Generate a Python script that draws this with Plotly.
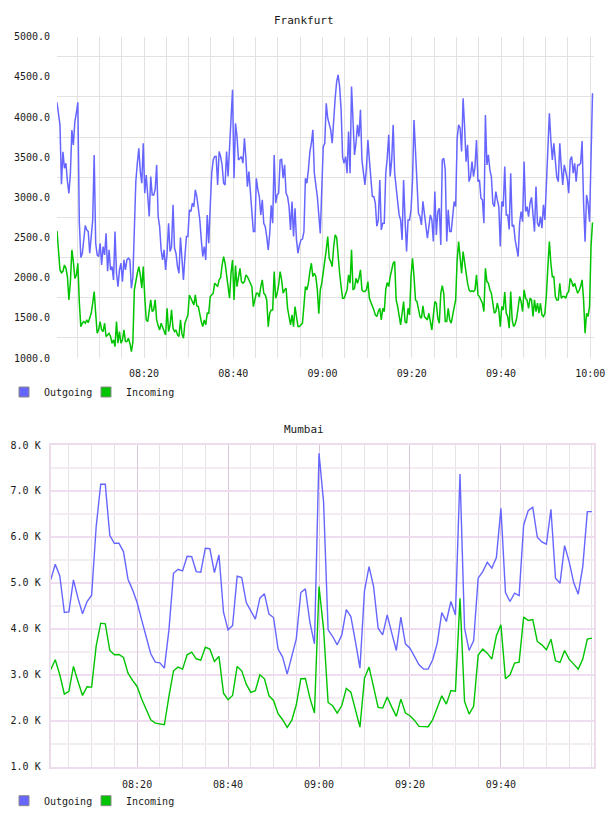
import pandas as pd
import plotly.graph_objects as go

# ---------------- data ----------------
DAY = "2024-01-01"

# Frankfurt: samples every 20 s starting 08:00:30
FRA_START = DAY + " 08:00:30"
FRA_STEP = "20s"
fra_outgoing = [
    4183, 4050, 3900, 3163, 3568, 3362, 3424, 3200, 3050, 3300,
    3839, 3652, 3943, 4047, 4183, 2700, 2250, 2300, 2520, 2650,
    2595, 2574, 2304, 2553, 2719, 3528, 2429, 2283, 2263, 2429,
    2159, 2387, 2283, 2553, 2080, 2346, 2097, 2138, 1972, 2574,
    2055, 1889, 2097, 2180, 1951, 2221, 2097, 2221, 2242, 2221,
    1868, 2000, 2553, 3200, 3425, 3611, 3321, 3176, 3674, 3051,
    3279, 2968, 2761, 3259, 3030, 3030, 3100, 3404, 2761, 2636,
    2346, 2221, 2346, 2097, 2304, 2678, 2325, 2387, 2906, 2366,
    2304, 2138, 2055, 2500, 2180, 1972, 2263, 2512, 2512, 2844,
    2823, 2927, 2885, 3093, 3010, 2885, 2719, 2470, 2263, 2387,
    2221, 2781, 2429, 2885, 3300, 3466, 3508, 3508, 3155, 3570,
    3508, 3400, 3176, 3155, 3570, 3259, 3632, 4047, 4338, 3238,
    3923, 3757, 3466, 3487, 3508, 3425, 3736, 3487, 3134, 3321,
    3051, 2850, 2574, 2574, 3238, 3100, 3010, 2781, 2968, 2678,
    2636, 2512, 2346, 2550, 2900, 2678, 3528, 2927, 3030, 3051,
    3466, 3474, 3238, 3404, 3051, 3010, 2885, 2595, 2948, 2512,
    2864, 2470, 2304, 2408, 2470, 2480, 2574, 3238, 3176, 3342,
    3570, 3674, 3840, 3300, 3176, 3010, 2781, 2550, 3100, 3632,
    3674, 4172, 3985, 3923, 3840, 3674, 4000, 4234, 4441, 4524,
    4379, 4089, 3500, 3425, 3508, 3300, 3819, 3300, 4379, 3881,
    3528, 3674, 3902, 3757, 4089, 3466, 3300, 3155, 3362, 3715,
    3466, 3176, 3010, 3010, 2927, 2640, 2719, 3217, 2595, 2678,
    2678, 3300, 3487, 3778, 3259, 3466, 3902, 3300, 3160, 2950,
    2781, 2719, 2470, 3217, 2719, 2325, 2719, 2719, 2844, 3217,
    3964, 3549, 3093, 2802, 2761, 2657, 2950, 2802, 2657, 2491,
    2636, 2781, 2719, 2450, 3072, 2532, 2823, 2864, 2408, 3466,
    3487, 3342, 2450, 2844, 2574, 2574, 2761, 2948, 2885, 3736,
    3902, 3860, 3570, 4234, 3881, 3445, 3653, 3196, 3259, 3445,
    3259, 3383, 3715, 3196, 3217, 2989, 2968, 2678, 4026, 3404,
    3528, 3342, 3259, 2927, 2885, 3072, 2968, 2885, 2387, 2948,
    2885, 3383, 2781, 2781, 2600, 3300, 2636, 2657, 2470, 2387,
    2263, 2678, 2823, 2698, 3445, 2823, 2885, 2761, 2927, 3000,
    2761, 2574, 3134, 2678, 2636, 2761, 2615, 2906, 2719, 3217,
    3715, 4047, 3715, 3466, 3674, 3487, 3250, 3196, 3674, 3383,
    3155, 3404, 3300, 3238, 3051, 3466, 3508, 3300, 3425, 3196,
    3404, 3404, 3425, 3700, 2927, 2449, 3030, 2927, 2698, 3466, 4296,
]
fra_incoming = [
    2581, 2350, 2096, 2062, 2080, 2158, 2117, 2012, 1722, 1950,
    2345, 2200, 1992, 2030, 2179, 1700, 1390, 1433, 1453, 1433,
    1474, 1440, 1495, 1557, 1682, 1827, 1557, 1310, 1350, 1453,
    1350, 1329, 1433, 1267, 1287, 1308, 1267, 1184, 1225, 1142,
    1453, 1184, 1329, 1184, 1225, 1350, 1204, 1204, 1246, 1184,
    1080, 1195, 1848, 1972, 2055, 2138, 2034, 1868, 2138, 1760,
    1474, 1453, 1619, 1723, 1578, 1599, 1723, 1474, 1400, 1350,
    1433, 1391, 1350, 1287, 1619, 1329, 1410, 1599, 1370, 1329,
    1350, 1287, 1267, 1474, 1300, 1246, 1433, 1495, 1536, 1785,
    1744, 1702, 1661, 1785, 1650, 1640, 1536, 1453, 1391, 1474,
    1412, 1560, 1557, 1765, 1785, 1806, 1931, 1910, 1889, 1972,
    2000, 2159, 2263, 2180, 2055, 1889, 1744, 2055, 2221, 1723,
    2150, 1889, 2014, 2117, 1951, 1931, 1951, 2034, 2014, 1972,
    1951, 1889, 1640, 1723, 1806, 1806, 1760, 1889, 1972, 1806,
    1785, 1723, 1391, 1557, 1599, 1599, 2076, 1744, 1806, 1910,
    2076, 1972, 1806, 1848, 1870, 1619, 1516, 1412, 1536, 1391,
    1640, 1516, 1391, 1391, 1412, 1433, 1650, 1889, 1848, 1931,
    2076, 2180, 2014, 2055, 2014, 1848, 1550, 1848, 1931, 2055,
    2221, 2346, 2512, 2240, 2200, 2138, 2387, 2532, 2500, 2221,
    2055, 1889, 1744, 1744, 1806, 1848, 2034, 1931, 2346, 1848,
    1868, 1993, 1931, 1993, 2097, 1848, 1827, 1827, 1848, 1951,
    1744, 1702, 1640, 1599, 1536, 1516, 1578, 1619, 1474, 1619,
    1578, 1850, 1939, 1889, 2014, 2097, 2180, 2200, 1723, 1640,
    1536, 1412, 1557, 1702, 1450, 1433, 1620, 1536, 2014, 2242,
    2014, 1723, 1702, 1599, 1516, 1495, 1650, 1516, 1495, 1474,
    1557, 1474, 1350, 1530, 1702, 1682, 1495, 1433, 1806, 1900,
    1806, 1453, 1453, 1619, 1474, 1433, 1557, 1630, 1723, 2221,
    2449, 2263, 2055, 2325, 2180, 2030, 1931, 1848, 1827, 1835,
    1827, 1848, 2034, 1785, 1765, 1723, 1682, 1578, 2117, 1951,
    1931, 1848, 1806, 1680, 1557, 1578, 1682, 1599, 1391, 1640,
    1599, 1820, 1557, 1516, 1370, 1827, 1474, 1391, 1420, 1495,
    1619, 1765, 1702, 1578, 1848, 1744, 1720, 1619, 1744, 1723,
    1516, 1723, 1578, 1682, 1557, 1682, 1536, 1516, 1557, 1785,
    2138, 2449, 2180, 2010, 2014, 1765, 1723, 1723, 1931, 1744,
    1765, 1765, 1744, 1806, 1827, 1993, 1951, 1889, 1931, 1848,
    1806, 1840, 1889, 1972, 1723, 1308, 1557, 1516, 1640, 2387, 2686,
]

# Mumbai: samples every minute from 08:01 to 10:00
MUM_START = DAY + " 08:01:00"
MUM_STEP = "1min"
mum_outgoing = [
    5065, 5406, 5152, 4355, 4370, 5065, 4667, 4326, 4594, 4732,
    6225, 7145, 7145, 6029, 5862, 5862, 5681, 5080, 4848, 4572,
    4196, 3797, 3457, 3275, 3261, 3145, 3978, 5210, 5297, 5261,
    5580, 5572, 5246, 5232, 5754, 5746, 5225, 5609, 4362, 3978,
    4072, 5145, 5116, 4572, 4391, 4210, 4667, 4761, 4319, 4246,
    3558, 3384, 3014, 3399, 3783, 4790, 4870, 4138, 3674, 7819,
    6768, 3978, 3833, 3652, 3862, 4420, 4268, 3725, 3145, 4826,
    5355, 4920, 4015, 3870, 4304, 3906, 3529, 4254, 3674, 3580,
    3399, 3217, 3123, 3123, 3326, 3689, 4354, 4159, 4594, 4300,
    7370, 4015, 3529, 3746, 5101, 5246, 5449, 5319, 5550, 6623,
    4789, 4594, 4775, 4724, 6261, 6572, 6645, 5993, 5891, 5841,
    6601, 5101, 4993, 5811, 5464, 5007, 4754, 5355, 6551, 6551,
]
mum_incoming = [
    3109, 3326, 3000, 2580, 2638, 3181, 2855, 2551, 2739, 2732,
    3630, 4123, 4109, 3529, 3435, 3442, 3377, 3036, 2877, 2746,
    2471, 2254, 2022, 1949, 1935, 1913, 2529, 3087, 3167, 3123,
    3435, 3493, 3348, 3319, 3601, 3558, 3290, 3399, 2601, 2457,
    2551, 3181, 3087, 2797, 2616, 2652, 3000, 2913, 2543, 2442,
    2152, 2022, 1855, 2007, 2348, 2913, 2920, 2493, 2167, 4920,
    4000, 2398, 2326, 2167, 2326, 2703, 2623, 2254, 1862, 2928,
    3167, 2732, 2290, 2275, 2515, 2297, 2094, 2471, 2167, 2109,
    2007, 1877, 1877, 1870, 2022, 2297, 2543, 2362, 2659, 2645,
    4667, 2420, 2145, 2312, 3428, 3558, 3471, 3341, 3848, 4087,
    2913, 3000, 3254, 3275, 4254, 4181, 4203, 3725, 3652, 3543,
    3775, 3304, 3268, 3529, 3341, 3232, 3123, 3341, 3775, 3797,
]

series_names = ["Outgoing", "Incoming"]
chart_titles = ["Frankfurt", "Mumbai"]
mum_ytick_vals = [1000, 2000, 3000, 4000, 5000, 6000, 7000, 8000]
mum_ytick_text = ["1.0 K", "2.0 K", "3.0 K", "4.0 K", "5.0 K", "6.0 K", "7.0 K", "8.0 K"]
mum_xtick_vals = [DAY + " 08:20", DAY + " 08:40", DAY + " 09:00", DAY + " 09:20", DAY + " 09:40"]

# ---------------- styling ----------------
W, H = 608, 816
OUT_COLOR = "#6666ff"
IN_COLOR = "#00c400"
FONT = "DejaVu Sans Mono"
TEXT = "#1a1a1a"
FRA_GRID = "#e2e2e2"
MUM_GRID_MAJOR_H = "#efdcef"
MUM_GRID_MINOR_H = "#f3edf3"
MUM_GRID_MAJOR_V = "#dcc6dc"
MUM_GRID_MINOR_V = "#e8e2e8"
MUM_BORDER = "#ecdcec"


def px_x(p):
    return p / W


def px_y(p):
    return 1 - p / H


fra_times = pd.date_range(FRA_START, periods=len(fra_outgoing), freq=FRA_STEP)
mum_times = pd.date_range(MUM_START, periods=len(mum_outgoing), freq=MUM_STEP)

fig = go.Figure()

for vals, color in [(fra_outgoing, OUT_COLOR), (fra_incoming, IN_COLOR)]:
    fig.add_trace(go.Scatter(x=fra_times, y=vals, mode="lines",
                             line=dict(color=color, width=1.5),
                             xaxis="x", yaxis="y", showlegend=False,
                             hoverinfo="skip"))
for vals, color in [(mum_outgoing, OUT_COLOR), (mum_incoming, IN_COLOR)]:
    fig.add_trace(go.Scatter(x=mum_times, y=vals, mode="lines",
                             line=dict(color=color, width=1.4),
                             xaxis="x2", yaxis="y2", showlegend=False,
                             hoverinfo="skip"))

# legend entries (square swatches), one small legend per entry
legend_ids = [("legend", "legend2"), ("legend3", "legend4")]
for (leg_out, leg_in), xa, ya in zip(legend_ids, ["x", "x2"], ["y", "y2"]):
    for name, color, leg in zip(series_names, [OUT_COLOR, IN_COLOR], [leg_out, leg_in]):
        fig.add_trace(go.Scatter(x=[None], y=[None], mode="markers", name=name,
                                 marker=dict(symbol="square", size=10, color=color,
                                             line=dict(color="#8a8a8a", width=1)),
                                 xaxis=xa, yaxis=ya, legend=leg))

five_min = 5 * 60 * 1000
twenty_min = 20 * 60 * 1000

legend_common = dict(xanchor="left", yanchor="middle", orientation="h",
                     font=dict(family=FONT, size=10, color=TEXT),
                     bgcolor="rgba(0,0,0,0)", borderwidth=0, itemclick=False,
                     itemdoubleclick=False)

fig.update_layout(
    width=W, height=H,
    margin=dict(l=0, r=0, t=0, b=0, autoexpand=False),
    paper_bgcolor="white", plot_bgcolor="white",
    font=dict(family=FONT, size=10, color=TEXT),
    xaxis=dict(
        domain=[px_x(57), px_x(594)], anchor="y", type="date", automargin=False,
        range=[DAY + " 08:00:30", DAY + " 10:00:50"],
        tickformat="%H:%M", tick0=DAY + " 08:00", dtick=twenty_min,
        showgrid=True, gridcolor=FRA_GRID, gridwidth=1,
        minor=dict(tick0=DAY + " 08:00", dtick=five_min, showgrid=True,
                   gridcolor=FRA_GRID, gridwidth=1),
        zeroline=False, showline=False, ticks="", ticklabelstandoff=8,
        fixedrange=True,
    ),
    yaxis=dict(
        domain=[px_y(358), px_y(36.7)], anchor="x", automargin=False,
        range=[1000, 5000], tick0=1000, dtick=500, tickformat=".1f",
        showgrid=False,
        minor=dict(tick0=1250, dtick=500, showgrid=True, gridcolor=FRA_GRID, gridwidth=1),
        zeroline=False, showline=False, ticks="", ticklabelstandoff=6,
        fixedrange=True,
    ),
    xaxis2=dict(
        domain=[px_x(50.7), px_x(594)], anchor="y2", type="date", automargin=False,
        range=[DAY + " 08:01:00", DAY + " 10:00:28"],
        tickmode="array", tickvals=mum_xtick_vals, tickformat="%H:%M",
        showgrid=True, gridcolor=MUM_GRID_MAJOR_V, gridwidth=1,
        minor=dict(tick0=DAY + " 08:00", dtick=five_min, showgrid=True,
                   gridcolor=MUM_GRID_MINOR_V, gridwidth=1),
        zeroline=False, showline=True, mirror=True, linecolor=MUM_BORDER, linewidth=2,
        ticks="", ticklabelstandoff=7, fixedrange=True,
    ),
    yaxis2=dict(
        domain=[px_y(766.7), px_y(445)], anchor="x2", automargin=False,
        range=[1000, 8000], tickmode="array",
        tickvals=mum_ytick_vals, ticktext=mum_ytick_text,
        showgrid=True, gridcolor=MUM_GRID_MAJOR_H, gridwidth=2,
        minor=dict(tick0=1500, dtick=1000, showgrid=True,
                   gridcolor=MUM_GRID_MINOR_H, gridwidth=2),
        zeroline=False, showline=True, mirror=True, linecolor=MUM_BORDER, linewidth=2,
        ticks="", ticklabelstandoff=6, fixedrange=True,
    ),
    legend=dict(x=px_x(4), y=px_y(392), **legend_common),
    legend2=dict(x=px_x(86), y=px_y(392), **legend_common),
    legend3=dict(x=px_x(4), y=px_y(800.7), **legend_common),
    legend4=dict(x=px_x(86), y=px_y(800.7), **legend_common),
    annotations=[
        dict(text=chart_titles[0], x=0.5, y=px_y(20), xref="paper", yref="paper",
             xanchor="center", yanchor="middle", showarrow=False,
             font=dict(family=FONT, size=11, color=TEXT)),
        dict(text=chart_titles[1], x=0.5, y=px_y(429), xref="paper", yref="paper",
             xanchor="center", yanchor="middle", showarrow=False,
             font=dict(family=FONT, size=11, color=TEXT)),
    ],
)

fig.write_html("out.html", config={"displayModeBar": False})
